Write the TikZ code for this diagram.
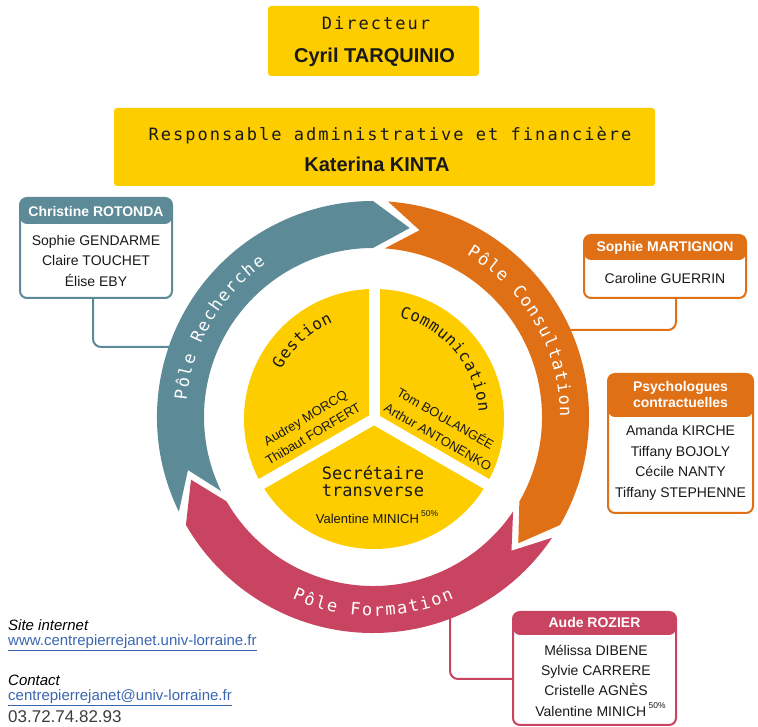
\documentclass[tikz,border=0pt]{standalone}
\usepackage{fontspec}
\setmainfont{Liberation Sans}
\newfontfamily\monofont{DejaVu Sans Mono}
\newfontfamily\monospaced{DejaVu Sans Mono}[LetterSpace=12]
\usetikzlibrary{decorations.text}
\definecolor{cyellow}{RGB}{253,205,0}
\definecolor{cteal}{RGB}{92,138,150}
\definecolor{corange}{RGB}{224,112,22}
\definecolor{cpink}{RGB}{201,68,97}
\definecolor{clink}{RGB}{58,102,176}
\definecolor{ctext}{RGB}{25,25,25}
\definecolor{cphone}{RGB}{60,60,60}
\newcommand\ringfont{\monofont\fontsize{17}{17}\selectfont}
\newcommand\innerfont{\monofont\fontsize{16}{16}\selectfont}
\newcommand\titlemono{\monospaced\fontsize{17}{17}\selectfont}
\newcommand\pctsup{\,\raisebox{0.55em}{\fontsize{8.5}{9}\selectfont 50\%}}
\tikzset{
  ybox/.style={fill=cyellow, rounded corners=3pt, inner sep=0pt},
  pbox/.style 2 args={draw=#1, line width=2pt, rounded corners=7pt, fill=white, inner sep=0pt,
    path picture={\fill[#1] ([yshift=-#2]path picture bounding box.north west) rectangle (path picture bounding box.north east);}},
  conn/.style={line width=2pt, rounded corners=8pt},
  hdr/.style={text=white, font=\bfseries\fontsize{14}{16}\selectfont, align=center, inner sep=0pt},
  body/.style={text=ctext, font=\fontsize{14}{20.5}\selectfont, align=center, inner sep=0pt},
  bigname/.style={text=ctext, font=\bfseries\fontsize{20}{20}\selectfont, inner sep=0pt},
  monotitle/.style={text=ctext, font=\titlemono, inner sep=0pt},
  disktext/.style={text=ctext, font=\fontsize{13}{16.5}\selectfont, inner sep=0pt},
  foot/.style={anchor=west, inner sep=0pt, font=\fontsize{15}{15}\selectfont},
  ringtext/.style={decorate, decoration={text along path, text align={fit to path}, text={|\ringfont\color{white}|#1}}},
  innertext/.style={decorate, decoration={text along path, text align={fit to path}, text={|\innerfont\color{ctext}|#1}}}
}
\begin{document}
\begin{tikzpicture}[x=1pt,y=1pt]
\useasboundingbox (0,0) rectangle (758,727);
\coordinate (C) at (373,310);
\coordinate (D) at (374,308);

% top boxes
\node[ybox, minimum width=211pt, minimum height=70pt] (dir) at (373.5,686) {};
\node[monotitle] (dirT) at (376,704) {Directeur};
\node[bigname] (dirN) at (374.5,670) {Cyril TARQUINIO};
\node[ybox, minimum width=541pt, minimum height=78pt] (raf) at (384.5,580) {};
\node[monotitle] (rafT) at (390,592) {Responsable administrative et financière};
\node[bigname] (rafN) at (377,563) {Katerina KINTA};

% pole boxes
\node[pbox={cteal}{26pt}, minimum width=152pt, minimum height=100pt] (rot) at (96,479) {};
\node[hdr] (rotH) at (96,515) {Christine ROTONDA};
\node[body] (rotB) at (96,466) {Sophie GENDARME\\Claire TOUCHET\\Élise EBY};

\node[pbox={corange}{25pt}, minimum width=162pt, minimum height=63pt] (mar) at (665,460.5) {};
\node[hdr] (marH) at (665,479) {Sophie MARTIGNON};
\node[body] (marB) at (665,448) {Caroline GUERRIN};

\node[pbox={corange}{43pt}, minimum width=145pt, minimum height=139pt] (psy) at (680.5,283.5) {};
\node[hdr] (psyH) at (680.5,332) {Psychologues\\contractuelles};
\node[body, font=\fontsize{14}{20.7}\selectfont] (psyB) at (680.5,264) {Amanda KIRCHE\\Tiffany BOJOLY\\Cécile NANTY\\Tiffany STEPHENNE};

\node[pbox={cpink}{23pt}, minimum width=163pt, minimum height=113pt] (roz) at (594.5,58.5) {};
\node[hdr] (rozH) at (594.5,104) {Aude ROZIER};
\node[body, font=\fontsize{14}{20.3}\selectfont] (rozB) at (596,46.5) {Mélissa DIBENE\\Sylvie CARRERE\\Cristelle AGNÈS\\\hspace*{9pt}Valentine MINICH\pctsup};

% connectors
\coordinate (attR) at (173,380);
\coordinate (attO) at (568,397);
\coordinate (attP) at (450,113);
\draw[conn, cteal] ([xshift=-3pt]rot.south) |- (attR);
\draw[conn, corange] ([xshift=11pt]mar.south) |- (attO);
\draw[conn, cpink] (attP) |- ([yshift=-10.5pt]roz.west);

% ring arrows
\begin{scope}[shift={(C)}]
\fill[cteal] (206:216) arc[start angle=206, end angle=90, radius=216] -- (79:192.5) -- (90:169) arc[start angle=90, end angle=206, radius=169] -- (196:192.5) -- cycle;
\fill[corange] (86:216) arc[start angle=86, end angle=-30, radius=216] -- (-41:192.5) -- (-30:169) arc[start angle=-30, end angle=86, radius=169] -- (76:192.5) -- cycle;
\fill[cpink] (-34:216) arc[start angle=-34, end angle=-150, radius=216] -- (-161:192.5) -- (-150:169) arc[start angle=-150, end angle=-34, radius=169] -- (-44:192.5) -- cycle;
\path[ringtext={Pôle Recherche}] (175:187) arc[start angle=175, end angle=125, radius=187];
\path[ringtext={Pôle Consultation}] (60:187) arc[start angle=60, end angle=0, radius=187];
\path[ringtext={Pôle Formation}] (246:199) arc[start angle=246, end angle=294, radius=199];
\end{scope}

% inner disk
\fill[cyellow] (D) circle (130);
\draw[white, line width=11pt] (D) -- ++(90:140);
\draw[white, line width=11pt] (D) -- ++(-30:140);
\draw[white, line width=11pt] (D) -- ++(210:140);
\fill[white] (D) circle (5.5);
\begin{scope}[shift={(D)}]
\path[innertext={Gestion}] (152:105) arc[start angle=152, end angle=113, radius=105];
\path[innertext={Communication}] (76:105) arc[start angle=76, end angle=4, radius=105];
\end{scope}
\node[disktext, rotate=31] (gesA) at (306,308) {Audrey MORCQ};
\node[disktext, rotate=31] (gesB) at (313,293) {Thibaut FORFERT};
\node[disktext, rotate=-30] (comA) at (446,309) {Tom BOULANGÉE};
\node[disktext, rotate=-30] (comB) at (438,290) {Arthur ANTONENKO};
\node[text=ctext, font=\monofont\fontsize{17}{17}\selectfont, align=center, inner sep=0pt] (sec) at (373,245.5) {Secrétaire\\transverse};
\node[text=ctext, font=\fontsize{13}{13}\selectfont, inner sep=0pt] (secN) at (377,210) {Valentine MINICH\pctsup};

% footer
\node[foot, font=\itshape\fontsize{15}{15}\selectfont] (site) at (8,102) {Site internet};
\node[foot, text=clink] (url) at (8,84) {\underline{www.centrepierrejanet.univ-lorraine.fr}};
\node[foot, font=\itshape\fontsize{15}{15}\selectfont] (cont) at (8,47) {Contact};
\node[foot, text=clink] (mail) at (8,29) {\underline{centrepierrejanet@univ-lorraine.fr}};
\node[foot, text=cphone, font=\fontsize{17}{17}\selectfont] (tel) at (8,10) {03.72.74.82.93};
\end{tikzpicture}
\end{document}
